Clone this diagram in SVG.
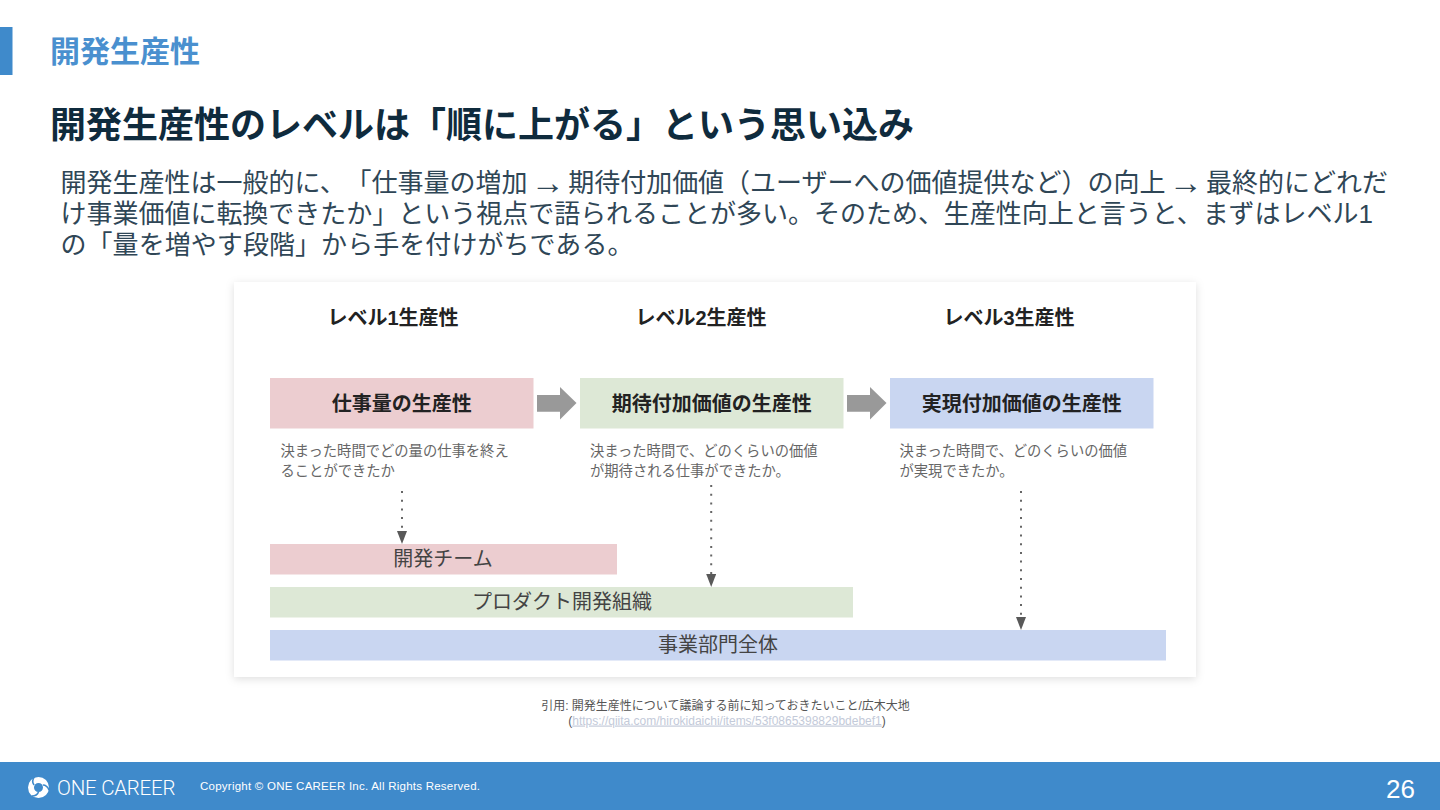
<svg xmlns="http://www.w3.org/2000/svg" width="1440" height="810" viewBox="0 0 1440 810">
<style>
text{font-family:"Liberation Sans","Noto Sans CJK JP",sans-serif;text-spacing-trim:space-all;font-feature-settings:"chws" 0,"palt" 0}
.body{font-size:26px;fill:#2f4656}
.sp{font-size:12px}
.arr{font-size:34px}
.lvl{font-size:20px;font-weight:700;fill:#222;text-anchor:middle}
.box{font-size:20px;font-weight:700;fill:#222;text-anchor:middle}
.desc{font-size:14.3px;fill:#666}
.bar{font-size:20px;fill:#444;text-anchor:middle}
.cite{font-size:12px;fill:#555;text-anchor:middle}
.dot{fill:none;stroke:#666;stroke-width:2;stroke-dasharray:2 6.7;marker-end:url(#tri)}
.block{fill:#999}
</style>
<defs>
<marker id="tri" markerUnits="userSpaceOnUse" markerWidth="13" markerHeight="10" refX="0" refY="5" orient="auto" viewBox="0 0 13 10"><path d="M0 0L13 5L0 10Z" fill="#595959"/></marker>
<filter id="sh" x="-5%" y="-5%" width="110%" height="112%"><feDropShadow dx="0" dy="2" stdDeviation="4" flood-color="#000" flood-opacity="0.13"/></filter>
</defs>
<rect width="1440" height="810" fill="#fff"/>
<g id="header">
<rect x="0" y="27" width="12.5" height="48" fill="#3f8acb"/>
<text x="50" y="62" font-size="30" font-weight="700" fill="#4a90cf">開発生産性</text>
<text x="50" y="138" font-size="36" font-weight="700" fill="#0f2b3d" textLength="864">開発生産性のレベルは「順に上がる」という思い込み</text>
</g>
<g id="intro">
<text class="body" x="60.500" y="192" textLength="1327.500">開発生産性は一般的に、「仕事量の増加<tspan class="sp"> </tspan><tspan class="arr" dy="2">→</tspan><tspan class="sp" dy="-2"> </tspan>期待付加価値（ユーザーへの価値提供など）の向上<tspan class="sp"> </tspan><tspan class="arr" dy="2">→</tspan><tspan class="sp" dy="-2"> </tspan>最終的にどれだ</text>
<text class="body" x="60.500" y="223" textLength="1312.500">け事業価値に転換できたか」という視点で語られることが多い。そのため、生産性向上と言うと、まずはレベル1</text>
<text class="body" x="60.500" y="254" textLength="573">の「量を増やす段階」から手を付けがちである。</text>
</g>
<rect id="card" x="234" y="282" width="962" height="395" fill="#fff" filter="url(#sh)"/>
<g id="level1-label"><text class="lvl" x="393" y="325">レベル1生産性</text></g>
<g id="level2-label"><text class="lvl" x="701" y="325">レベル2生産性</text></g>
<g id="level3-label"><text class="lvl" x="1009" y="325">レベル3生産性</text></g>
<g id="box1"><rect x="270" y="378" width="263.5" height="50.5" fill="#eccdd0"/><text class="box" x="401.700" y="410.500">仕事量の生産性</text></g>
<g id="box2"><rect x="580" y="378" width="263.500" height="50.5" fill="#dde8d6"/><text class="box" x="711.700" y="410.500">期待付加価値の生産性</text></g>
<g id="box3"><rect x="890" y="378" width="263.500" height="50.5" fill="#c9d6f1"/><text class="box" x="1021.700" y="410.500">実現付加価値の生産性</text></g>
<g id="desc1"><text class="desc" x="280.500" y="456">決まった時間でどの量の仕事を終え</text><text class="desc" x="280.500" y="475.500">ることができたか</text></g>
<g id="desc2"><text class="desc" x="590" y="456">決まった時間で、どのくらいの価値</text><text class="desc" x="590" y="475.500">が期待される仕事ができたか。</text></g>
<g id="desc3"><text class="desc" x="899.500" y="456">決まった時間で、どのくらいの価値</text><text class="desc" x="899.500" y="475.500">が実現できたか。</text></g>
<g id="bar1"><rect x="270" y="544" width="347" height="30.500" fill="#eccdd0"/><text class="bar" x="443" y="566">開発チーム</text></g>
<g id="bar2"><rect x="270" y="587" width="583" height="30.500" fill="#dde8d6"/><text class="bar" x="562" y="609">プロダクト開発組織</text></g>
<g id="bar3"><rect x="270" y="630" width="896" height="30.500" fill="#c9d6f1"/><text class="bar" x="718" y="652">事業部門全体</text></g>
<g id="connectors">
<path class="block" d="M537 395H560V387L576.500 403L560 419.500V411.700H537Z"/>
<path class="block" d="M847 395H870V387L886.500 403L870 419.500V411.700H847Z"/>
<path class="dot" d="M402 491V531"/>
<path class="dot" d="M711.200 485V574"/>
<path class="dot" d="M1021 491V617"/>
</g>
<g id="citation">
<text class="cite" x="725.500" y="709.500">引用: 開発生産性について議論する前に知っておきたいこと/広木大地</text>
<text class="cite" x="727" y="724.500">(<tspan fill="#c3cad9" text-decoration="underline">https://qiita.com/hirokidaichi/items/53f0865398829bdebef1</tspan>)</text>
</g>
<g id="footer">
<rect x="0" y="762" width="1440" height="48" fill="#3f8acb"/>
<g id="logo">
<circle cx="38.500" cy="787.500" r="10.500" fill="#fff"/>
<circle cx="38.500" cy="787.500" r="4.500" fill="#3f8acb"/>
<g fill="none" stroke="#3f8acb" stroke-width="1.600">
<path d="M34 785Q31 781 35 776"/>
<path d="M43 785Q47 785 49 790"/>
<path d="M38.500 792Q37 796 32 796"/>
</g>
</g>
<text x="57" y="795" font-size="20.500" fill="#fff" style="font-family:Roboto,sans-serif;font-weight:300" textLength="118.500" lengthAdjust="spacing">ONE CAREER</text>
<text x="200" y="790" font-size="11.500" fill="#fff" textLength="280">Copyright © ONE CAREER Inc. All Rights Reserved.</text>
<text x="1386" y="798" font-size="26" fill="#fff">26</text>
</g>
</svg>
